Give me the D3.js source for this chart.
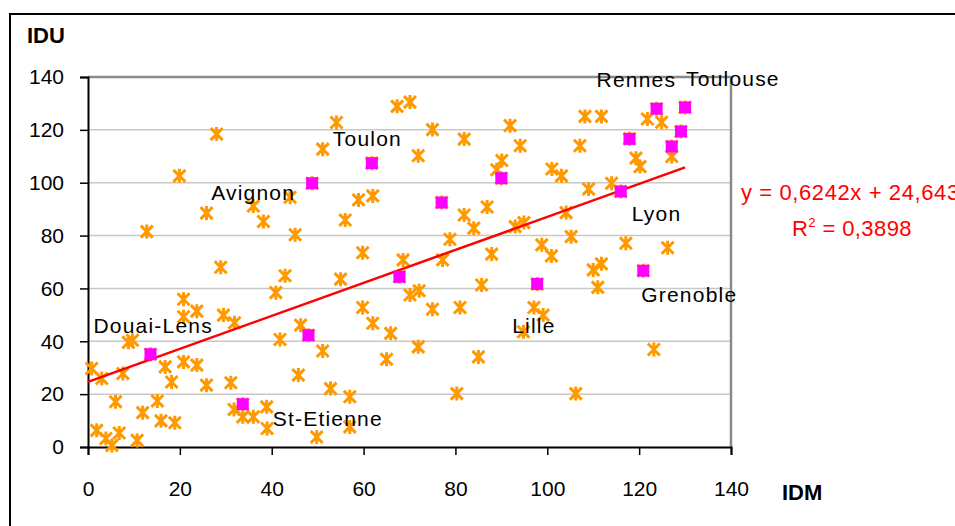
<!DOCTYPE html>
<html>
<head>
<meta charset="utf-8">
<script src="https://cdn.jsdelivr.net/npm/d3@7"></script>
<style>
    body { margin: 0; background: #fff; }
    svg { display: block; font-family: "Liberation Sans", Arial, sans-serif; }
</style>
</head>
<body>
<script>
// all cities: IDM (x) and IDU (y)
const idmAll = [0.8, 3.0, 7.6, 6.0, 1.9, 3.9, 5.2, 6.8, 10.7, 8.8, 9.7, 16.8, 18.2, 15.1, 11.9, 15.9, 18.9,
    20.8, 20.8, 23.7, 20.8, 23.7, 25.8, 29.5, 31.9, 31.1, 28.9, 31.8, 33.7, 36.0, 38.9, 39.0, 45.8, 49.8,
    52.8, 57.0, 57.0, 41.8, 46.3, 51.1, 40.9, 42.9, 55.0, 59.8, 59.8, 62.0, 65.9, 65.0, 68.6, 70.1, 77.2,
    87.9, 100.9, 72.1, 75.0, 81.0, 85.7, 97.1, 99.1, 94.8, 71.9, 85.0, 80.3, 110.0, 111.8, 111.0, 123.2,
    106.2, 117.1, 126.2, 108.2, 111.8, 121.8, 124.9, 127.1, 107.1, 119.3, 120.2, 103.1, 109.0, 114.0, 104.1,
    105.2, 70.1, 67.3, 75.0, 81.9, 91.9, 94.1, 71.9, 90.1, 89.0, 101.0, 81.9, 86.9, 84.0, 93.0, 94.9, 78.8,
    98.8, 54.1, 51.1, 44.0, 58.9, 62.0, 56.0, 36.0, 38.2, 45.1, 28.0, 19.9, 25.8, 12.8];
const iduAll = [29.7, 25.9, 27.8, 17.1, 6.3, 3.2, 0.6, 5.3, 2.5, 39.6, 40.4, 30.3, 24.6, 17.4, 13.0, 9.9, 9.2,
    55.9, 49.3, 51.4, 32.2, 31.0, 23.4, 49.9, 47.0, 24.3, 68.0, 14.2, 11.4, 11.4, 15.2, 7.0, 27.2, 3.8,
    22.1, 19.0, 7.6, 40.7, 46.1, 36.3, 58.4, 64.8, 63.5, 73.5, 52.8, 46.8, 43.0, 33.2, 70.8, 57.5, 70.8,
    73.0, 72.3, 59.1, 52.1, 52.8, 61.3, 52.8, 49.9, 43.6, 37.9, 34.1, 20.2, 67.0, 69.3, 60.4, 36.9,
    20.2, 77.1, 75.4, 125.1, 125.1, 124.1, 122.9, 109.9, 114.0, 109.3, 106.1, 102.6, 97.6, 99.8, 88.7,
    79.6, 130.5, 128.9, 120.1, 116.5, 121.6, 114.0, 110.2, 108.4, 104.9, 105.2, 87.8, 90.8, 82.8, 83.4, 84.9, 78.6,
    76.5, 122.8, 112.7, 94.5, 93.5, 95.0, 85.9, 91.2, 85.3, 80.3, 118.4, 102.6, 88.5, 81.5];

// highlighted cities (magenta)
const cityNames = ["Rennes", "Toulouse", "", "", "", "Lyon", "Toulon", "Avignon", "", "",
    "Grenoble", "Lille", "", "", "Douai-Lens", "St-Etienne"];
const cityIdm = [123.8, 130.0, 129.1, 117.9, 127.1, 116.0, 61.8, 48.8, 90.0, 77.0, 120.9, 97.8, 67.8, 48.0, 13.6, 33.7];
const cityIdu = [128.0, 128.5, 119.4, 116.6, 113.7, 96.7, 107.4, 99.8, 101.7, 92.5, 66.7, 61.7, 64.4, 42.3, 35.1, 16.2];

const tickValues = [0, 20, 40, 60, 80, 100, 120, 140];
const slope = 0.6242;
const intercept = 24.643;
const equationText = "y = 0,6242x + 24,643";
const r2Text = "0,3898";

// label placement relative to the square (layout only)
const labelOffset = {
    "Rennes": [-60, -22], "Toulouse": [1, -21], "Toulon": [-39, -17], "Avignon": [-101, 17],
    "Lyon": [11, 30], "Grenoble": [-2, 31], "Douai-Lens": [-57, -21], "Lille": [-25, 49], "St-Etienne": [30, 22]
};

const width = 955, height = 526;
const plot = {left: 88, right: 731, top: 77, bottom: 447};

const svg = d3.select("body").append("svg")
    .attr("width", width)
    .attr("height", height);

svg.append("rect").attr("width", width).attr("height", height).attr("fill", "#fff");

// outer chart frame (runs off the picture on right and bottom)
svg.append("rect")
    .attr("x", 10).attr("y", 14)
    .attr("width", 1000).attr("height", 600)
    .attr("fill", "none")
    .attr("stroke", "#000")
    .attr("stroke-width", 2);

const xScale = d3.scaleLinear().domain([0, 140]).range([plot.left, plot.right]);
const yScale = d3.scaleLinear().domain([0, 140]).range([plot.bottom, plot.top]);

// gridlines
svg.append("g")
    .selectAll("line")
    .data(tickValues.filter(function (d) { return d > 0 && d < 140; }))
    .enter().append("line")
    .attr("x1", xScale(0)).attr("x2", xScale(140))
    .attr("y1", function (d) { return yScale(d); })
    .attr("y2", function (d) { return yScale(d); })
    .attr("stroke", "#c8c8c8")
    .attr("stroke-width", 1.5);

// top and right plot border
svg.append("path")
    .attr("d", "M" + xScale(0) + "," + yScale(140) + "H" + xScale(140) + "V" + yScale(0))
    .attr("fill", "none")
    .attr("stroke", "#8a8a8a")
    .attr("stroke-width", 2.5);

// axes
const yAxis = svg.append("g")
    .attr("transform", "translate(" + plot.left + ",0)")
    .call(d3.axisLeft(yScale).tickValues(tickValues).tickSize(8).tickPadding(16));
const xAxis = svg.append("g")
    .attr("transform", "translate(0," + plot.bottom + ")")
    .call(d3.axisBottom(xScale).tickValues(tickValues).tickSize(8).tickPadding(26));

[xAxis, yAxis].forEach(function (ax) {
    ax.select(".domain").attr("stroke", "#000").attr("stroke-width", 2);
    ax.selectAll(".tick line").attr("stroke", "#000").attr("stroke-width", 1.5);
    ax.selectAll(".tick text")
        .attr("fill", "#000")
        .style("font-size", "21px")
        .style("font-family", "'Liberation Sans', Arial, sans-serif");
});

// axis titles
svg.append("text")
    .attr("x", 27).attr("y", 43)
    .attr("font-size", 22).attr("font-weight", "bold")
    .text("IDU");
svg.append("text")
    .attr("x", 782).attr("y", 500)
    .attr("font-size", 22).attr("font-weight", "bold")
    .text("IDM");

// star markers for every city
const allPoints = idmAll.map(function (d, i) { return {x: d, y: iduAll[i]}; })
    .concat(cityIdm.map(function (d, i) { return {x: d, y: cityIdu[i]}; }));
const starPath = "M-6,-6L6,6M-6,6L6,-6M0,-7L0,7";

svg.append("g")
    .selectAll("path")
    .data(allPoints)
    .enter().append("path")
    .attr("transform", function (d) { return "translate(" + xScale(d.x) + "," + yScale(d.y) + ")"; })
    .attr("d", starPath)
    .attr("fill", "none")
    .attr("stroke", "#ff9900")
    .attr("stroke-width", 3);

// regression line
const lineFunc = d3.line()
    .x(function (d) { return xScale(d); })
    .y(function (d) { return yScale(slope * d + intercept); });
svg.append("path")
    .datum([0, d3.max(cityIdm.concat(idmAll))])
    .attr("d", lineFunc)
    .attr("fill", "none")
    .attr("stroke", "#ff0000")
    .attr("stroke-width", 2.5);

// highlighted cities
const cities = cityNames.map(function (n, i) { return {name: n, x: cityIdm[i], y: cityIdu[i]}; });
svg.append("g")
    .selectAll("rect")
    .data(cities)
    .enter().append("rect")
    .attr("x", function (d) { return xScale(d.x) - 6; })
    .attr("y", function (d) { return yScale(d.y) - 6; })
    .attr("width", 12).attr("height", 12)
    .attr("fill", "#ff00ff");

svg.append("g")
    .selectAll("text")
    .data(cities.filter(function (d) { return d.name !== ""; }))
    .enter().append("text")
    .attr("x", function (d) { return xScale(d.x) + labelOffset[d.name][0]; })
    .attr("y", function (d) { return yScale(d.y) + labelOffset[d.name][1]; })
    .attr("font-size", 21)
    .attr("letter-spacing", 1.2)
    .attr("fill", "#000")
    .text(function (d) { return d.name; });

// regression equation
svg.append("text")
    .attr("x", 741).attr("y", 200)
    .attr("font-size", 22)
    .attr("letter-spacing", 0.6)
    .attr("fill", "#ff0000")
    .text(equationText);
const r2 = svg.append("text")
    .attr("x", 792).attr("y", 236)
    .attr("font-size", 22)
    .attr("letter-spacing", 0.4)
    .attr("fill", "#ff0000");
r2.append("tspan").text("R");
r2.append("tspan").attr("font-size", 13).attr("dy", -9).text("2");
r2.append("tspan").attr("dy", 9).text(" = " + r2Text);
</script>
</body>
</html>
